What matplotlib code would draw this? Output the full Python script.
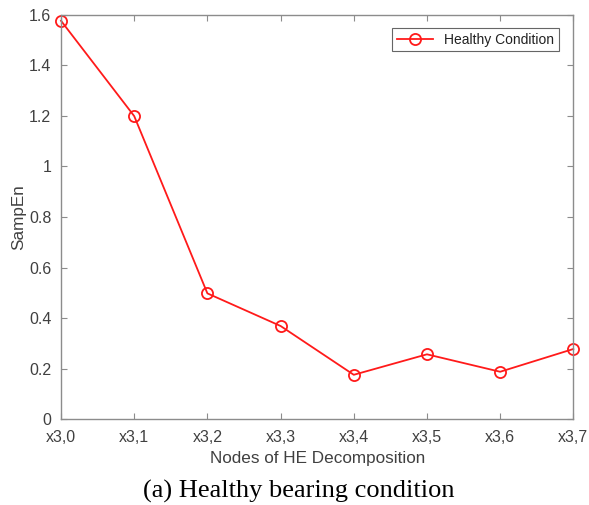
import matplotlib.pyplot as plt

plt.rcParams['font.family'] = ['Liberation Sans', 'DejaVu Sans']

nodes = ["x3,0", "x3,1", "x3,2", "x3,3", "x3,4", "x3,5", "x3,6", "x3,7"]
sampen = [1.576, 1.199, 0.498, 0.369, 0.176, 0.257, 0.188, 0.278]
y_ticks = [0, 0.2, 0.4, 0.6, 0.8, 1, 1.2, 1.4, 1.6]
y_labels = ["0", "0.2", "0.4", "0.6", "0.8", "1", "1.2", "1.4", "1.6"]

axis_col = "#8c8c8c"
text_col = "#404040"

fig = plt.figure(figsize=(5.89, 5.05), dpi=100)
ax = fig.add_axes([0.1036, 0.1697, 0.8698, 0.8012])

x = list(range(len(nodes)))
ax.plot(x, sampen, color="#ff1a1a", linewidth=1.3, marker="o", markersize=8,
        markerfacecolor="none", markeredgewidth=1.3, label="Healthy Condition",
        clip_on=False)

ax.set_xlim(0, len(nodes) - 1)
ax.set_ylim(0, 1.6)
ax.set_xticks(x)
ax.set_xticklabels(nodes)
ax.set_yticks(y_ticks)
ax.set_yticklabels(y_labels)

for s in ax.spines.values():
    s.set_color(axis_col)
    s.set_linewidth(1.0)
ax.tick_params(direction="in", top=True, right=True, length=4.5, width=0.8,
               color=axis_col, labelcolor=text_col, labelsize=11.5)
ax.tick_params(axis="x", pad=8)
ax.tick_params(axis="y", pad=7)

ax.set_xlabel("Nodes of HE Decomposition", fontsize=12.3, color=text_col, labelpad=4)
ax.set_ylabel("SampEn", fontsize=12.3, color=text_col, labelpad=2)

leg = ax.legend(loc="upper right", fontsize=10, frameon=True, fancybox=False,
                borderpad=0.35, handlelength=2.6, bbox_to_anchor=(0.986, 0.985))
leg.get_frame().set_edgecolor("#404040")
leg.get_frame().set_linewidth(0.8)
for t in leg.get_texts():
    t.set_color("#222222")

fig.text(0.507, 0.026, "(a) Healthy bearing condition", ha="center", va="center",
         fontsize=19, family="Liberation Serif", color="black")

fig.savefig("out.png", dpi=100)
